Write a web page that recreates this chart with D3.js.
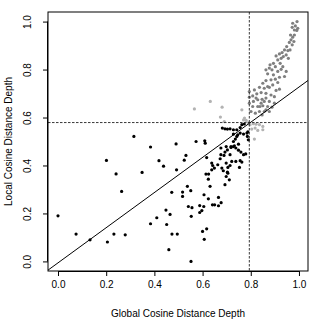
<!DOCTYPE html>
<html>
<head>
<meta charset="utf-8">
<title>Cosine Distance Depth</title>
<script src="https://cdn.jsdelivr.net/npm/d3@7"></script>
<style>
  body { margin: 0; background: #fff; }
  text { font-family: "Liberation Sans", Arial, sans-serif; }
</style>
</head>
<body>
<script>
// points below / left of the cutoffs (black)
var blackPts = [
  [0.000,0.190],[0.075,0.114],[0.133,0.090],[0.205,0.081],[0.232,0.114],[0.279,0.111],
  [0.201,0.421],[0.241,0.365],[0.264,0.292],[0.315,0.521],[0.349,0.371],[0.384,0.477],
  [0.419,0.420],[0.384,0.157],[0.410,0.182],
  [0.448,0.214],[0.465,0.196],[0.451,0.154],[0.473,0.114],[0.495,0.114],[0.460,0.049],
  [0.552,0.000],[0.541,0.229],[0.556,0.224],[0.553,0.188],[0.588,0.233],[0.605,0.229],
  [0.597,0.212],[0.588,0.204],[0.600,0.125],[0.617,0.136],[0.607,0.092],[0.641,0.236],
  [0.650,0.236],[0.666,0.232],[0.677,0.245],
  [0.438,0.397],[0.492,0.382],[0.524,0.422],[0.531,0.442],[0.472,0.288],[0.517,0.289],
  [0.517,0.271],[0.537,0.313],[0.551,0.295],[0.606,0.278],[0.624,0.261],[0.666,0.267],
  [0.617,0.433],[0.625,0.364],[0.624,0.343],[0.631,0.313],[0.638,0.382],[0.642,0.400],
  [0.649,0.389],[0.638,0.410],[0.663,0.403],[0.676,0.445],[0.673,0.428],[0.689,0.442],
  [0.693,0.456],[0.703,0.465],[0.714,0.445],[0.718,0.475],[0.728,0.479],[0.738,0.473],
  [0.749,0.464],[0.759,0.456],[0.770,0.445],[0.779,0.448],[0.680,0.389],[0.686,0.378],
  [0.705,0.392],[0.714,0.400],[0.698,0.410],[0.721,0.417],[0.738,0.417],[0.756,0.420],
  [0.763,0.414],[0.703,0.372],[0.698,0.354],[0.711,0.340],[0.693,0.320],[0.753,0.392],
  [0.698,0.479],[0.676,0.473],[0.705,0.368],[0.614,0.364],
  [0.490,0.490],[0.573,0.500],[0.609,0.503],[0.611,0.493],[0.682,0.556],[0.693,0.553],
  [0.703,0.552],[0.714,0.553],[0.728,0.549],[0.742,0.549],[0.756,0.558],[0.763,0.570],
  [0.773,0.573],[0.728,0.531],[0.756,0.535],[0.770,0.531],[0.784,0.535],[0.786,0.521],
  [0.742,0.521],[0.728,0.500],[0.749,0.489],[0.718,0.479],[0.732,0.482],[0.788,0.540],
  [0.790,0.507],[0.746,0.528],[0.736,0.510]
];

// points above both cutoffs (dark gray)
var darkPts = [
  [0.974,0.993],[0.992,1.000],[0.985,0.982],[0.972,0.976],[0.995,0.972],[0.981,0.965],
  [0.991,0.963],[0.965,0.944],[0.981,0.944],[0.974,0.935],[0.967,0.924],[0.979,0.917],
  [0.960,0.913],[0.972,0.903],[0.949,0.896],[0.940,0.882],[0.954,0.879],[0.930,0.871],
  [0.947,0.861],[0.919,0.865],[0.935,0.854],[0.926,0.847],[0.912,0.840],[0.905,0.857],
  [0.877,0.806],[0.863,0.799],[0.888,0.799],[0.870,0.782],[0.894,0.778],[0.912,0.792],
  [0.926,0.801],[0.933,0.812],[0.940,0.771],[0.919,0.768],[0.902,0.760],[0.884,0.757],
  [0.863,0.754],[0.912,0.746],[0.891,0.736],[0.877,0.726],[0.856,0.722],[0.836,0.726],
  [0.815,0.715],[0.794,0.708],[0.825,0.699],[0.843,0.704],[0.863,0.701],[0.884,0.694],
  [0.898,0.687],[0.919,0.718],[0.905,0.713],[0.863,0.681],[0.847,0.676],[0.829,0.674],
  [0.811,0.667],[0.794,0.660],[0.808,0.646],[0.829,0.646],[0.850,0.649],[0.870,0.646],
  [0.888,0.643],[0.877,0.625],[0.856,0.625],[0.836,0.625],[0.819,0.618],[0.801,0.625],
  [0.863,0.632],[0.847,0.611],[0.794,0.685],[0.808,0.690],[0.894,0.826],[0.922,0.826],
  [0.880,0.820],[0.902,0.812],[0.947,0.792],[0.850,0.743],[0.870,0.729],[0.822,0.681],
  [0.877,0.667],[0.898,0.660],[0.843,0.660],[0.956,0.847],[0.963,0.882],[0.838,0.646],
  [0.856,0.667]
];

// points above only one cutoff (light gray)
var lightPts = [
  [0.566,0.636],[0.632,0.667],[0.681,0.643],[0.763,0.632],[0.674,0.602],[0.690,0.583],
  [0.774,0.598],[0.781,0.588],[0.770,0.590],[0.790,0.578],[0.797,0.570],[0.811,0.574],
  [0.822,0.572],[0.836,0.570],[0.850,0.563],[0.850,0.549],[0.829,0.546],[0.818,0.556],
  [0.804,0.552],[0.815,0.510]
];

var xCut = 0.794, yCut = 0.579;       // dashed cutoffs
var fitA = -0.006, fitB = 0.733;      // fitted line y = a + b x
var ticks = [0, 0.2, 0.4, 0.6, 0.8, 1.0];

var margin = {top: 12, right: 24, bottom: 61, left: 48},
    width = 332 - margin.left - margin.right,
    height = 332 - margin.top - margin.bottom;

var svg = d3.select("body").append("svg")
    .attr("width", 332).attr("height", 332);

var g = svg.append("g")
    .attr("transform", "translate(" + margin.left + "," + margin.top + ")");

var x = d3.scaleLinear().domain([-0.0415, 1.0375]).range([0, width]);
var y = d3.scaleLinear().domain([-0.04, 1.04]).range([height, 0]);

g.append("clipPath").attr("id", "clip")
  .append("rect").attr("width", width).attr("height", height);

var plot = g.append("g").attr("clip-path", "url(#clip)");

function dots(data, col) {
  plot.selectAll(null).data(data).enter().append("circle")
    .attr("cx", function(d) { return x(d[0]); })
    .attr("cy", function(d) { return y(d[1]); })
    .attr("r", 1.6)
    .attr("fill", col);
}
dots(lightPts, "#b3b3b3");
dots(darkPts, "#7f7f7f");
dots(blackPts, "#000");

// cutoffs
plot.append("line")
  .attr("x1", 0).attr("x2", width)
  .attr("y1", y(yCut)).attr("y2", y(yCut))
  .attr("stroke", "#222").attr("stroke-width", 0.9)
  .attr("stroke-dasharray", "2.5,1.5");
plot.append("line")
  .attr("x1", x(xCut)).attr("x2", x(xCut))
  .attr("y1", 0).attr("y2", height)
  .attr("stroke", "#222").attr("stroke-width", 0.9)
  .attr("stroke-dasharray", "2.5,1.5");

// fitted line
var xd = x.domain();
plot.append("line")
  .attr("x1", x(xd[0])).attr("y1", y(fitA + fitB * xd[0]))
  .attr("x2", x(xd[1])).attr("y2", y(fitA + fitB * xd[1]))
  .attr("stroke", "#000").attr("stroke-width", 1);

// box
g.append("rect").attr("width", width).attr("height", height)
  .attr("fill", "none").attr("stroke", "#000");

// axes
var xAxis = d3.axisBottom(x).tickValues(ticks).tickFormat(d3.format(".1f"))
  .tickSize(5).tickPadding(5);
var gx = g.append("g").attr("transform", "translate(0," + height + ")").call(xAxis);
gx.select(".domain").attr("d", "M" + x(0) + ",0.5H" + x(1));
gx.selectAll("text").style("font-size", "10px").attr("fill", "#000");

var yAxis = d3.axisLeft(y).tickValues(ticks).tickFormat(d3.format(".1f"))
  .tickSize(5);
var gy = g.append("g").call(yAxis);
gy.select(".domain").attr("d", "M-0.5," + y(0) + "V" + y(1));
gy.selectAll("text")
  .attr("x", null).attr("dy", null)
  .attr("text-anchor", "middle")
  .attr("transform", "translate(-17,0) rotate(-90)")
  .style("font-size", "10px").attr("fill", "#000");

svg.append("text")
  .attr("x", margin.left + width / 2).attr("y", 317)
  .attr("text-anchor", "middle")
  .style("font-size", "10px")
  .text("Global Cosine Distance Depth");

svg.append("text")
  .attr("transform", "translate(12," + (margin.top + height / 2) + ") rotate(-90)")
  .attr("text-anchor", "middle")
  .style("font-size", "10px")
  .text("Local Cosine Distance Depth");
</script>
</body>
</html>
